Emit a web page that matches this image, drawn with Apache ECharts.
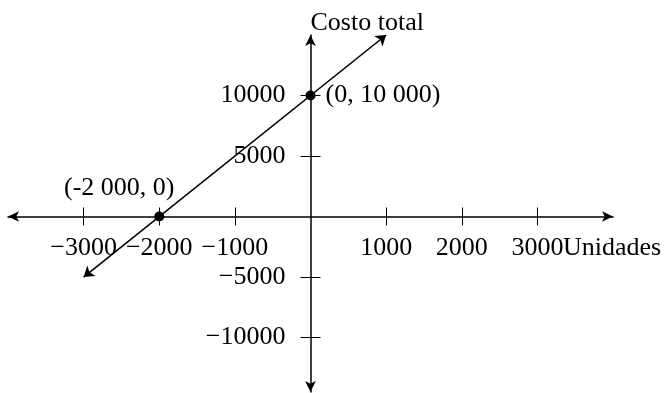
<!DOCTYPE html>
<html>
<head>
<meta charset="utf-8">
<script src="https://cdn.jsdelivr.net/npm/echarts@6/dist/echarts.min.js"></script>
<style>
  html, body { margin: 0; padding: 0; background: #fff; }
  #container { width: 668px; height: 393px; }
</style>
</head>
<body>
<div id="container"></div>
<script>
  // values
  var xTicks = [-3000, -2000, -1000, 1000, 2000, 3000];
  var yTicks = [-10000, -5000, 5000, 10000];
  var lineX = [-3000, 1000];
  var lineY = [-5000, 15000];
  var pointX = [0, -2000];
  var pointY = [10000, 0];
  var pointLabels = ['(0, 10 000)', '(-2 000, 0)'];

  var dom = document.getElementById('container');
  var myChart = echarts.init(dom, null, { renderer: 'canvas' });

  var font = 'Liberation Serif';
  var fs = 26;
  var fmt = function (v) { return String(v).replace('-', '\u2212'); };

  // axes cross at the origin; moved there with offset (grid: 605 x 357)
  var xOffset = -175.5;
  var yOffset = -302.5;

  var xBase = {
    type: 'value',
    min: -4000,
    max: 4000,
    position: 'bottom',
    offset: xOffset,
    splitLine: { show: false }
  };
  var yBase = {
    type: 'value',
    min: -14500,
    max: 15000,
    position: 'left',
    offset: yOffset,
    splitLine: { show: false }
  };

  var option = {
    animation: false,
    grid: { left: 8, right: 55, top: 35, bottom: 1, outerBoundsMode: 'none' },
    xAxis: [
      Object.assign({}, xBase, {
        name: 'Unidades',
        nameLocation: 'end',
        nameGap: -50,
        nameMoveOverlap: false,
        nameTextStyle: { fontFamily: font, fontSize: fs, color: '#000', align: 'left', verticalAlign: 'top', lineHeight: 64 },
        axisLine: { onZero: false, symbol: ['arrow', 'arrow'], symbolSize: [8, 11], lineStyle: { color: '#000', width: 1.5 } },
        axisTick: { show: true, inside: false, length: 9, customValues: xTicks, lineStyle: { color: '#000', width: 1 } },
        axisLabel: { customValues: xTicks, formatter: fmt, margin: 19, fontFamily: font, fontSize: fs, color: '#000' }
      }),
      Object.assign({}, xBase, {
        axisLine: { show: false, onZero: false },
        axisTick: { show: true, inside: true, length: 9, customValues: xTicks, lineStyle: { color: '#000', width: 1 } },
        axisLabel: { show: false }
      })
    ],
    yAxis: [
      Object.assign({}, yBase, {
        name: 'Costo total',
        nameLocation: 'end',
        nameGap: 12,
        nameMoveOverlap: false,
        nameTextStyle: { fontFamily: font, fontSize: fs, color: '#000', align: 'left', verticalAlign: 'middle' },
        axisLine: { onZero: false, symbol: ['arrow', 'arrow'], symbolSize: [8, 11], lineStyle: { color: '#000', width: 1.5 } },
        axisTick: { show: true, inside: false, length: 10, customValues: yTicks, lineStyle: { color: '#000', width: 1 } },
        axisLabel: { customValues: yTicks, formatter: fmt, margin: 25, fontFamily: font, fontSize: fs, color: '#000' }
      }),
      Object.assign({}, yBase, {
        axisLine: { show: false, onZero: false },
        axisTick: { show: true, inside: true, length: 10, customValues: yTicks, lineStyle: { color: '#000', width: 1 } },
        axisLabel: { show: false }
      })
    ],
    series: [
      {
        type: 'lines',
        coordinateSystem: 'cartesian2d',
        xAxisIndex: 0,
        yAxisIndex: 0,
        symbol: ['arrow', 'arrow'],
        symbolSize: 10,
        lineStyle: { color: '#000', width: 1.6, opacity: 1 },
        data: [{ coords: [[lineX[0], lineY[0]], [lineX[1], lineY[1]]] }]
      },
      {
        type: 'scatter',
        xAxisIndex: 0,
        yAxisIndex: 0,
        symbolSize: 10,
        itemStyle: { color: '#000', opacity: 1 },
        z: 5,
        data: [
          { value: [pointX[0], pointY[0]], name: pointLabels[0],
            label: { position: 'right', distance: 10 } },
          { value: [pointX[1], pointY[1]], name: pointLabels[1],
            label: { position: 'top', distance: 10, offset: [-40, 0] } }
        ],
        label: {
          show: true,
          formatter: function (p) { return p.name; },
          fontFamily: font,
          fontSize: fs,
          color: '#000',
          opacity: 1
        }
      }
    ]
  };

  myChart.setOption(option);
  window.addEventListener('resize', myChart.resize);
</script>
</body>
</html>
